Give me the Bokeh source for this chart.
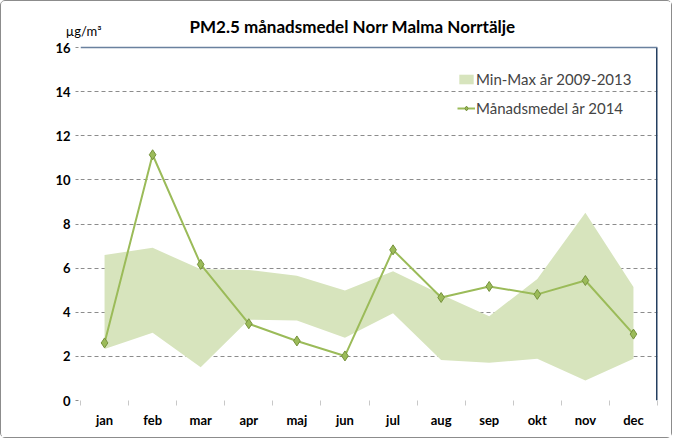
from bokeh.plotting import figure
from bokeh.models import (ColumnDataSource, FixedTicker, Span, Label, Legend, LegendItem, LinearAxis)
from bokeh.embed import file_html
from bokeh.resources import INLINE

months = ["jan", "feb", "mar", "apr", "maj", "jun", "jul", "aug", "sep", "okt", "nov", "dec"]
band_min = [2.34, 3.07, 1.51, 3.66, 3.63, 2.84, 3.96, 1.84, 1.71, 1.89, 0.91, 1.89]
band_max = [6.60, 6.92, 5.95, 5.92, 5.65, 4.99, 5.86, 4.80, 3.82, 5.51, 8.51, 5.14]
mean_2014 = [2.61, 11.14, 6.17, 3.48, 2.70, 2.02, 6.83, 4.67, 5.17, 4.81, 5.44, 3.01]
y_ticks = [0, 2, 4, 6, 8, 10, 12, 14, 16]
unit_text = "µg/m³"
title_text = "PM2.5 månadsmedel Norr Malma Norrtälje"

FONT = "Lato"
xs = list(range(1, len(months) + 1))
src = ColumnDataSource(dict(x=xs, lo=band_min, hi=band_max, m=mean_2014))

Y_TOP = 17.68      # frame extends above 16 to host the title / unit
UNIT_POS = 16.77   # vertical position of the unit text (in axis units)

p = figure(width=672, height=438, output_backend="svg", toolbar_location=None,
           x_range=(0.5, 12.5), y_range=(0, Y_TOP),
           min_border_left=79, min_border_right=16, min_border_top=9, min_border_bottom=39)
p.styles = {"border": "1px solid #8c8c8c", "border-radius": "5px"}
p.outline_line_color = None
p.background_fill_color = "white"
p.border_fill_color = "white"

# grid
p.xgrid.grid_line_color = None
p.ygrid.ticker = FixedTicker(ticks=y_ticks[1:-1])
p.ygrid.grid_line_color = "#8c8c8c"
p.ygrid.grid_line_dash = "4 3"
p.ygrid.grid_line_width = 1

# plot-area top and right edges
p.add_layout(Span(location=y_ticks[-1], dimension="width", line_color="#6a819e", line_width=1.5))
p.segment(x0=[len(months) + 0.5], y0=[y_ticks[0]], x1=[len(months) + 0.5], y1=[y_ticks[-1]],
          line_color="#243f60", line_width=3)

band = p.varea(x="x", y1="lo", y2="hi", source=src, fill_color="#d7e4bd")
line = p.line(x="x", y="m", source=src, line_color="#9bbb59", line_width=2)
pts = p.scatter(x="x", y="m", source=src, marker="diamond", size=10,
                fill_color="#9bbb59", line_color="#76923c", line_width=1)

# axes
p.yaxis.ticker = FixedTicker(ticks=y_ticks)
p.yaxis.axis_line_color = None
p.yaxis.major_tick_out = 5
p.yaxis.major_tick_in = 0
p.yaxis.major_tick_line_color = "#8c8c8c"
p.yaxis.major_tick_line_dash = "3 2"
p.yaxis.minor_tick_line_color = None
p.yaxis.major_label_standoff = 5
p.yaxis.major_label_text_font = FONT
p.yaxis.major_label_text_font_style = "bold"
p.yaxis.major_label_text_font_size = "13px"
p.yaxis.major_label_text_color = "#000000"

# unit text as an extra tick-less left axis
unit_axis = LinearAxis(ticker=FixedTicker(ticks=[UNIT_POS]),
                       major_label_overrides={UNIT_POS: unit_text},
                       axis_line_color=None, major_tick_line_color=None,
                       minor_tick_line_color=None, major_tick_out=0, major_tick_in=0,
                       major_label_standoff=-49, major_label_text_font=FONT,
                       major_label_text_font_size="13px", major_label_text_color="#000000")
p.add_layout(unit_axis, "left")

p.xaxis.ticker = FixedTicker(ticks=xs, minor_ticks=[i + 0.5 for i in range(0, 13)])
p.xaxis.major_label_overrides = {i + 1: m for i, m in enumerate(months)}
p.xaxis.axis_line_color = None
p.xaxis.major_tick_line_color = None
p.xaxis.minor_tick_out = 5
p.xaxis.minor_tick_in = 0
p.xaxis.minor_tick_line_color = "#c8c8c8"
p.xaxis.major_label_standoff = 5
p.xaxis.major_label_text_font = FONT
p.xaxis.major_label_text_font_style = "bold"
p.xaxis.major_label_text_font_size = "13px"
p.xaxis.major_label_text_color = "#000000"

# title (screen units, relative to the plot frame's bottom-left)
p.add_layout(Label(x=272, y=374, x_units="screen", y_units="screen", text=title_text,
                   text_align="center", text_baseline="middle", text_font=FONT,
                   text_font_style="bold", text_font_size="17px", text_color="#000000"))

legend = Legend(items=[LegendItem(label="Min-Max år 2009-2013", renderers=[band]),
                       LegendItem(label="Månadsmedel år 2014", renderers=[line, pts])],
                location=(377, 282), background_fill_alpha=0, border_line_color=None,
                label_text_font=FONT, label_text_font_size="15px", spacing=8,
                label_height=21, glyph_width=18, glyph_height=12,
                padding=0, margin=0, label_standoff=1)
p.add_layout(legend)

open("out.html", "w").write(file_html(p, INLINE))
